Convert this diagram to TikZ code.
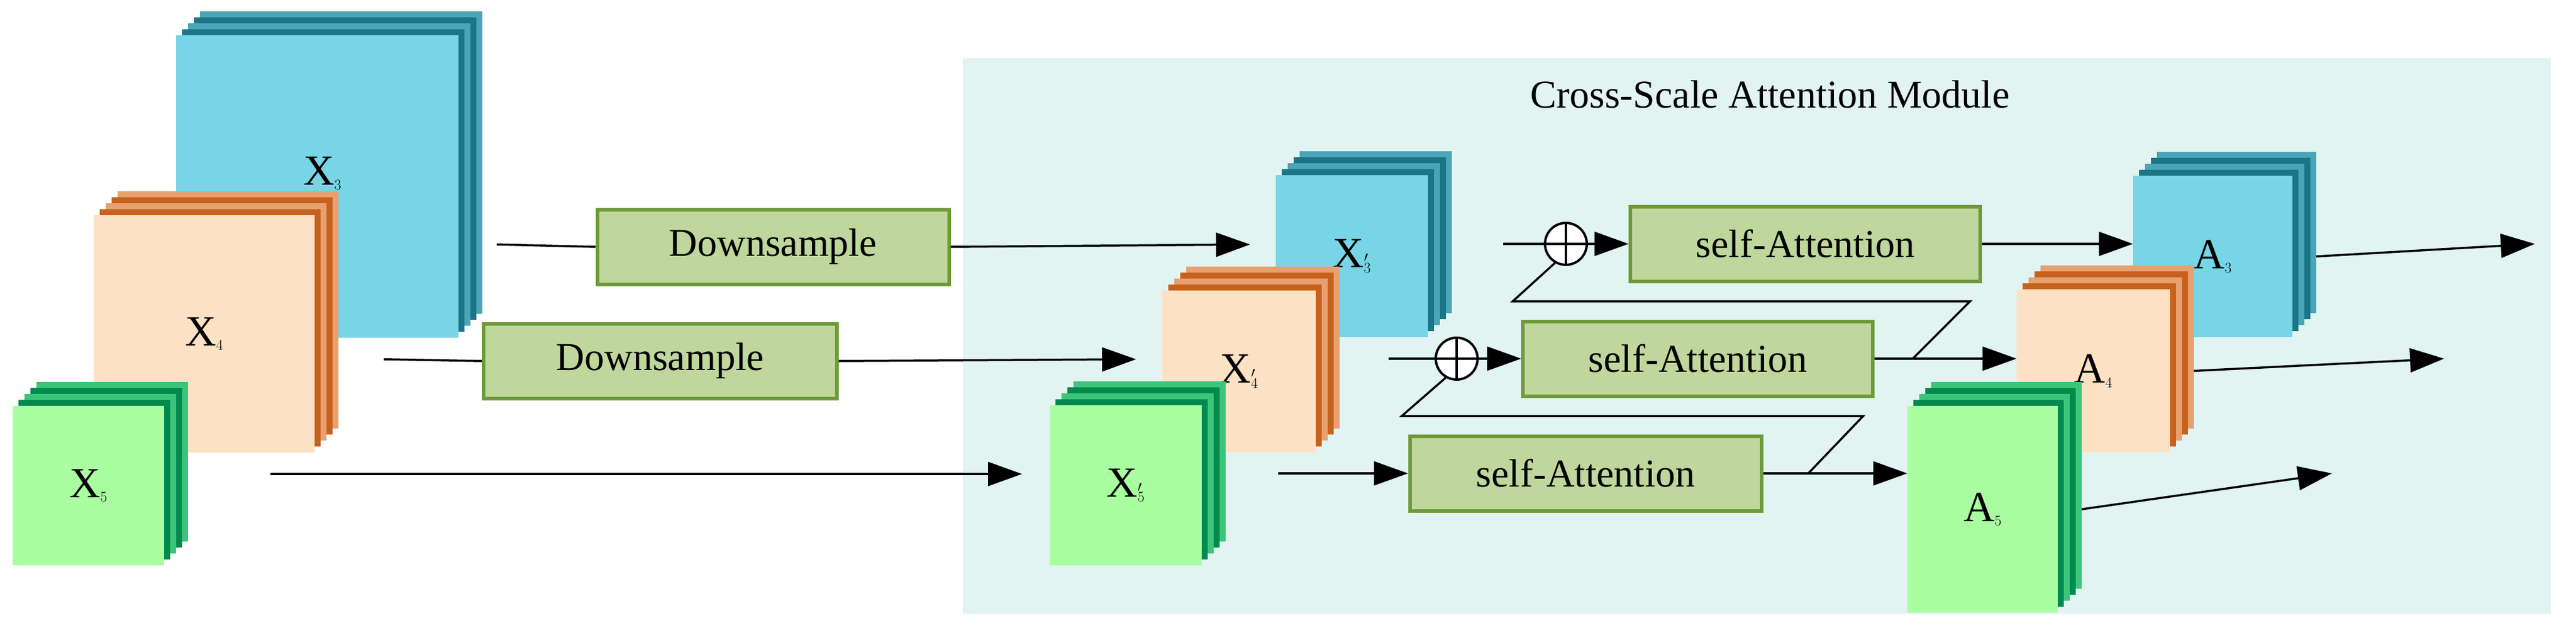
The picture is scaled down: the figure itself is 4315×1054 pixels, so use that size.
\documentclass[tikz,border=0pt]{standalone}
\usepackage{fontspec}
\setmainfont{Liberation Serif}
\usetikzlibrary{arrows.meta,calc}
\definecolor{bg}{HTML}{E1F4F1}
\definecolor{bfront}{HTML}{77D5E5}\definecolor{bdark}{HTML}{1A7686}\definecolor{blight}{HTML}{4AA6B6}
\definecolor{ofront}{HTML}{FDE1C4}\definecolor{odark}{HTML}{C7621E}\definecolor{olight}{HTML}{E8A070}
\definecolor{gfront}{HTML}{A9FFA0}\definecolor{gdark}{HTML}{008A4E}\definecolor{glight}{HTML}{3CC57A}
\definecolor{boxf}{HTML}{BFD79C}\definecolor{boxd}{HTML}{6E9A3A}
\newcommand\stk[9]{%
  \foreach \i in {4,3,2,1}{%
    \ifodd\i \def\cc{#7}\else\def\cc{#8}\fi
    \fill[\cc] (#2+10*\i,#3-10*\i) rectangle (#4+10*\i,#5-10*\i);}%
  \node[inner sep=0,fill=#6,minimum width={#4-#2},minimum height={#5-#3},font=\fontsize{72}{80}\selectfont] (#1) at ({(#2+#4)/2},{(#3+#5)/2}) {#9};}
\begin{document}
\begin{tikzpicture}[x=1pt,y=-1pt,
  arr/.style={line width=3.5pt,-{Triangle[length=57pt,width=40pt]}},
  ln/.style={line width=3.5pt},
  box/.style={draw=boxd,line width=6pt,fill=boxf,inner sep=0,font=\fontsize{66}{70}\selectfont},
  plus/.style={circle,draw,fill=white,line width=4pt,minimum size=70pt,inner sep=0}]
\useasboundingbox (0,0) rectangle (4315,1054);
\fill[bg] (1613,97) rectangle (4273,1027);
\node[font=\fontsize{66}{70}\selectfont] (title) at (2965,158) {Cross-Scale Attention Module};
% inputs
\stk{x3}{295}{59}{768}{565}{bfront}{bdark}{blight}{}
\node[font=\fontsize{72}{80}\selectfont] (x3l) at (540,290) {X$_3$};
\stk{x4}{157}{360}{527}{757}{ofront}{odark}{olight}{X$_4$}
\stk{x5}{21}{679}{275}{946}{gfront}{gdark}{glight}{X$_5$}
% module maps
\stk{x3p}{2137}{293}{2392}{564}{bfront}{bdark}{blight}{X$_3^{\prime}$}
\stk{x4p}{1947}{486}{2204}{757}{ofront}{odark}{olight}{X$_4^{\prime}$}
\stk{x5p}{1758}{678}{2013}{946}{gfront}{gdark}{glight}{X$_5^{\prime}$}
\stk{a3}{3573}{294}{3840}{564}{bfront}{bdark}{blight}{A$_3$}
\stk{a4}{3378}{484}{3635}{757}{ofront}{odark}{olight}{A$_4$}
\stk{a5}{3195}{679}{3447}{1025}{gfront}{gdark}{glight}{A$_5$}
% boxes
\node[box,minimum width=589pt,minimum height=125pt] (ds1) at (1295,413) {Downsample};
\node[box,minimum width=592pt,minimum height=125pt] (ds2) at (1106,604) {Downsample};
\node[box,minimum width=586pt,minimum height=125pt] (sa1) at (3024,408) {self-Attention};
\node[box,minimum width=586pt,minimum height=125pt] (sa2) at (2844,600) {self-Attention};
\node[box,minimum width=589pt,minimum height=125pt] (sa3) at (2656,792) {self-Attention};
% coordinates
\coordinate (r1s) at (832,409);\coordinate (r1e) at (2094,409);
\coordinate (r2s) at (643,601);\coordinate (r2e) at (1903,601);
\coordinate (r3s) at (453,793);\coordinate (r3e) at (1712,793);
\coordinate (m1s) at (2518,408);\coordinate (m2s) at (2326,600);\coordinate (m3s) at (2141,792);
\coordinate (o1) at (4246,408);\coordinate (o2) at (4094,600);\coordinate (o3) at (3906,792);
\coordinate (f1a) at (2534,504);\coordinate (f1b) at (3300,504);\coordinate (f1c) at (3204,600);
\coordinate (f2a) at (2348,696);\coordinate (f2b) at (3121,696);\coordinate (f2c) at (3029,792);
% left arrows
\draw[ln] (r1s) -- (ds1.west);\draw[arr] (ds1.east) -- (r1e);
\draw[ln] (r2s) -- (ds2.west);\draw[arr] (ds2.east) -- (r2e);
\draw[arr] (r3s) -- (r3e);
% module flows
\draw[arr] (m1s) -- (sa1.west);
\draw[arr] (m2s) -- (sa2.west);
\draw[arr] (m3s) -- (sa3.west);
\node[plus] (p1) at (2623,408) {};
\node[plus] (p2) at (2440,600) {};
\draw[line width=4pt] (p1.north) -- (p1.south) (p1.west) -- (p1.east);
\draw[line width=4pt] (p2.north) -- (p2.south) (p2.west) -- (p2.east);
\draw[arr] (sa1.east) -- (sa1.east -| a3.west);
\draw[arr] (sa2.east) -- (sa2.east -| a4.west);
\draw[arr] (sa3.east) -- (sa3.east -| a5.west);
\draw[ln,line join=miter] (p1.-120) -- (f1a) -- (f1b) -- (f1c);
\draw[ln,line join=miter] (p2.-120) -- (f2a) -- (f2b) -- (f2c);
\draw[arr] (a3.east -| 3880,0) -- (o1);
\draw[arr] (a4.east -| 3675,0) -- (o2);
\draw[arr] (a5.east -| 3487,0) -- (o3);
\end{tikzpicture}
\end{document}
